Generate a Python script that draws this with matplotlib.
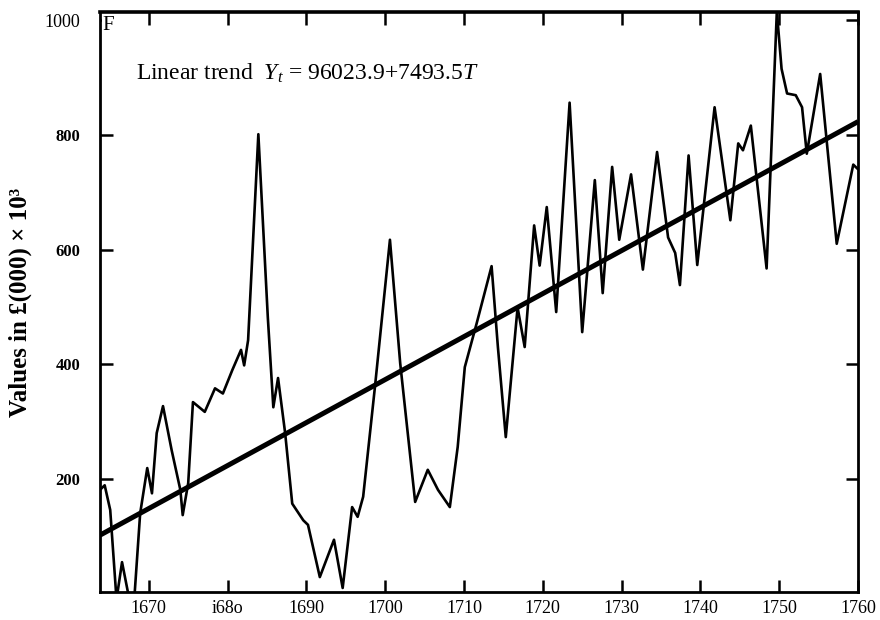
import numpy as np
import matplotlib
matplotlib.use("Agg")
import matplotlib.pyplot as plt

# Annual values of trade, £(000) x 10^3, read as turning points of the curve
years = [1663.8, 1664.4, 1665.1, 1665.9, 1666.6, 1667.6, 1668.2, 1668.9, 1669.8,
         1670.4, 1671.0, 1671.8, 1672.9, 1674.0, 1674.3, 1675.0, 1675.6, 1677.1,
         1678.4, 1679.4, 1680.6, 1681.7, 1682.1, 1682.6, 1683.9, 1685.1, 1685.8,
         1686.4, 1687.3, 1688.2, 1689.6, 1690.2, 1691.7, 1693.5, 1694.6, 1695.8,
         1696.5, 1697.2, 1698.7, 1700.6, 1701.9, 1703.8, 1705.4, 1706.7, 1708.2,
         1709.2, 1710.1, 1711.6, 1713.5, 1714.3, 1715.3, 1716.8, 1717.7, 1718.9,
         1719.6, 1720.5, 1721.7, 1723.4, 1725.0, 1726.6, 1727.6, 1728.8, 1729.7,
         1731.2, 1732.7, 1734.5, 1735.9, 1736.8, 1737.4, 1738.5, 1739.6, 1741.8,
         1743.8, 1744.8, 1745.4, 1746.4, 1748.4, 1749.7, 1750.3, 1751.0, 1752.1,
         1752.9, 1753.5, 1755.2, 1757.3, 1759.4, 1760.0]
values = [181, 189, 146, -10, 55, -15, 0, 140, 219,
          175, 280, 327, 250, 181, 137, 193, 334, 317,
          358, 349, 390, 425, 398, 442, 801, 482, 325,
          376, 280, 157, 128, 120, 29, 94, 10, 151,
          134, 169, 361, 617, 402, 160, 216, 181, 151,
          256, 395, 471, 571, 430, 273, 499, 430, 642,
          572, 674, 491, 856, 456, 721, 524, 744, 617,
          731, 565, 770, 621, 594, 538, 764, 573, 848,
          651, 785, 773, 816, 567, 1015, 915, 872, 869,
          848, 767, 906, 610, 748, 740]

# Linear trend Y_t = 96023.9 + 7493.5 T  (T in years from 1663, Y in £)
trend_a = 96023.9
trend_b = 7493.5
trend_origin = 1663

xticks = [1670, 1680, 1690, 1700, 1710, 1720, 1730, 1740, 1750, 1760]
xticklabels = ["1670", "i68o", "1690", "1700", "1710", "1720", "1730", "1740", "1750", "1760"]
yticks = [200, 400, 600, 800, 1000]
yticklabels = ["200", "400", "600", "800", "1000"]

plt.rcParams["font.family"] = ["Liberation Serif", "DejaVu Serif"]
plt.rcParams["mathtext.fontset"] = "custom"
plt.rcParams["mathtext.it"] = "Liberation Serif:italic"
plt.rcParams["mathtext.rm"] = "Liberation Serif"

fig = plt.figure(figsize=(8.8, 6.2), dpi=100)
ax = fig.add_axes([0.1136, 0.0452, 0.975 - 0.1136, 0.9806 - 0.0452])

x0, x1 = 1663.8, 1760
ax.set_xlim(x0, x1)
ax.set_ylim(3, 1014)

ax.plot(years, values, color="black", lw=1.9, solid_joinstyle="round",
        solid_capstyle="round", zorder=3)

tx = np.array([x0, x1])
ty = (trend_a + trend_b * (tx - trend_origin)) / 1000
ax.plot(tx, ty, color="black", lw=3.6, solid_capstyle="butt", zorder=4)

ax.set_xticks(xticks)
ax.set_xticklabels(xticklabels, fontsize=13)
ax.set_yticks(yticks)
ax.set_yticklabels(yticklabels)
for lab in ax.get_yticklabels():
    if lab.get_text() == "1000":
        lab.set_fontsize(13)
        lab.set_fontweight("normal")
    else:
        lab.set_fontsize(12)
        lab.set_fontweight("bold")

ax.tick_params(axis="both", direction="in", length=9, width=1.8,
               top=True, right=True, pad=6, colors="black")
ax.tick_params(axis="y", pad=14)

for side, sp in ax.spines.items():
    sp.set_linewidth(2.0)
    sp.set_color("black")
ax.spines["top"].set_linewidth(2.6)

ax.set_ylabel("Values in £(000) × 10³", fontsize=18, fontweight="bold", labelpad=9)

# stray mark beside the top-left corner label
ax.text(0.003, 0.993, "F", transform=ax.transAxes, fontsize=15, ha="left", va="top",
        zorder=5, bbox=dict(facecolor="white", edgecolor="none", pad=0.5))

ax.text(0.048, 0.883, "Linear trend  $Y_t$ = 96023.9+7493.5$T$",
        transform=ax.transAxes, fontsize=17, ha="left", va="baseline")

fig.savefig("out.png", dpi=100, facecolor="white")
